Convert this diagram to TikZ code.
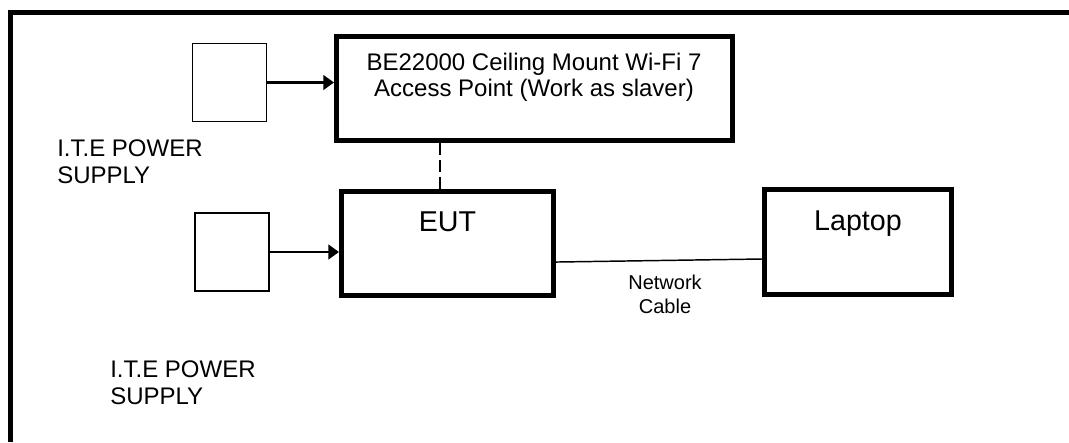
\documentclass[tikz,border=0pt]{standalone}
\usepackage{fontspec}
\setmainfont{Liberation Sans}
\usetikzlibrary{arrows.meta}

\begin{document}
\begin{tikzpicture}[x=0.75pt,y=-0.75pt,
  bigbox/.style={draw,line width=3.75pt,inner sep=0pt},
  pwrbox/.style={draw,line width=1.1pt,inner sep=0pt,minimum width=55.5pt,minimum height=58.5pt},
  feed/.style={line width=1.8pt,-{Triangle[length=8pt,width=11pt]}},
  txt/.style={inner sep=0pt,font=\fontsize{18}{20}\selectfont},
  bigtxt/.style={inner sep=0pt,font=\fontsize{21.5}{24}\selectfont,anchor=base}]
\useasboundingbox (0,0) rectangle (1069,442);
\draw[line width=3.75pt] (10.8,442) -- (10.8,12.5) -- (1069,12.5);

\node[pwrbox] (pwr1) at (229.5,82.5) {};
\node[pwrbox] (pwr2) at (232,252) {};
\node[bigbox,minimum width=297pt,minimum height=78pt] (ap) at (534.5,88.5) {};
\node[bigbox,minimum width=159pt,minimum height=78pt] (eut) at (447.5,243.5) {};
\node[bigbox,minimum width=140.25pt,minimum height=78.75pt] (laptop) at (858,242) {};

\node[txt,align=center,anchor=base] (aptext) at (534,97) {BE22000 Ceiling Mount Wi-Fi 7\\Access Point (Work as slaver)};
\node[bigtxt] (euttext) at (447.5,231) {EUT};
\node[bigtxt] (laptoptext) at (858,230) {Laptop};
\node[txt,align=left,anchor=base west] (pwr1text) at (57,183) {I.T.E POWER\\SUPPLY};
\node[txt,align=left,anchor=base west] (pwr2text) at (110,404) {I.T.E POWER\\SUPPLY};
\node[inner sep=0pt,font=\fontsize{15}{18}\selectfont,align=center,anchor=base] (cabletext) at (665,313) {Network\\Cable};

\coordinate (dash) at (440,0);
\draw[feed] (pwr1.east) -- (pwr1.east -| ap.west);
\draw[feed] (pwr2.east) -- (pwr2.east -| eut.west);
\draw[line width=1.5pt,dash pattern=on 9pt off 3.75pt] (ap.south -| dash) -- (eut.north -| dash);
\draw[line width=1.1pt] ([yshift=-13.9pt]eut.east) -- ([yshift=-12.75pt]laptop.west);
\end{tikzpicture}
\end{document}
